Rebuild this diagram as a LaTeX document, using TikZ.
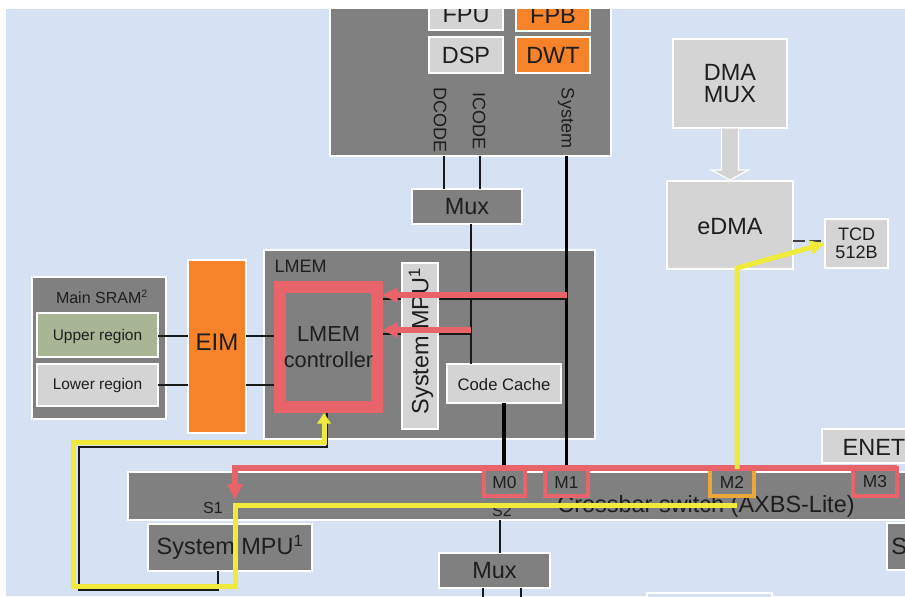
\documentclass[tikz,border=0pt]{standalone}
\usepackage{fontspec}
\setmainfont{Liberation Sans}
\usetikzlibrary{fit,arrows.meta}
\definecolor{bgblue}{HTML}{D6E1F3}
\definecolor{dgray}{HTML}{808080}
\definecolor{lgray}{HTML}{D4D4D4}
\definecolor{orng}{HTML}{F6822A}
\definecolor{rred}{HTML}{E8636A}
\definecolor{yel}{HTML}{F0EA3C}
\definecolor{morange}{HTML}{EDA63A}
\definecolor{grn}{HTML}{A8B696}
\definecolor{txt}{HTML}{1E1E1E}
\begin{document}
\begin{tikzpicture}[x=0.75pt,y=-0.75pt,
  every node/.append style={text=txt},
  blk/.style={rectangle, inner sep=0pt, outer sep=0pt, draw=white, line width=0.9pt},
  dk/.style={blk, fill=dgray},
  lt/.style={blk, fill=lgray},
  og/.style={blk, fill=orng},
  mb/.style={rectangle, inner sep=0pt, outer sep=0pt, draw=rred, line width=2.8pt, fill=dgray},
  fbig/.style={font=\fontsize{17.6}{16}\selectfont},
  fctl/.style={font=\fontsize{16.3}{19.5}\selectfont},
  fmid/.style={font=\fontsize{13.5}{13.5}\selectfont},
  fsm/.style={font=\fontsize{12}{13}\selectfont},
  fm/.style={font=\fontsize{12.5}{13}\selectfont},
  fmb/.style={font=\fontsize{13}{13}\selectfont},
  fxs/.style={font=\fontsize{11.6}{13}\selectfont},
  wthin/.style={draw=black!90, line width=1.1pt},
  wmid/.style={draw=black!90, line width=1.6pt},
  wthick/.style={draw=black, line width=2.8pt},
  rline/.style={draw=rred, line width=4pt},
  rarr/.style={draw=rred, line width=4.5pt, -{Triangle[length=11pt,width=11pt]}},
  yline/.style={draw=yel, line width=3.75pt},
]
\useasboundingbox (0,0) rectangle (905,596);
\fill[white] (0,0) rectangle (905,596);
\fill[bgblue] (6,9) rectangle (905,596);
\clip (6,9) rectangle (905,596);

% ---- core
\node[dk, fit={(330,-5)(611,156)}] (core) {};
\node[lt, fit={(429,-3)(503,30)}] (fpu) {};
\node[fbig] (fput) at (466,15) {FPU};
\node[og, fit={(516,-3)(590,31)}] (fpb) {};
\node[fbig] (fpbt) at (553,15) {FPB};
\node[lt, fit={(429,37)(503,73)}] (dsp) {};
\node[fbig] (dspt) at (dsp.center) {DSP};
\node[og, fit={(516,37)(590,73)}] (dwt) {};
\node[fbig] (dwtt) at (dwt.center) {DWT};
\node[fmid, rotate=-90] (dcode) at (440,120) {DCODE};
\node[fmid, rotate=-90] (icode) at (479,121) {ICODE};
\node[fmid, rotate=-90] (sysbus) at (566,118) {System};

\node[dk, fit={(412,189)(522,224)}] (mux1) {};
\node[fbig] (mux1t) at (mux1.center) {Mux};
\coordinate (dx) at (444,0);
\coordinate (ix) at (480,0);
\draw[wthin] (core.south -| dx) -- (mux1.north -| dx);
\draw[wthin] (core.south -| ix) -- (mux1.north -| ix);

% ---- DMA
\node[lt, fit={(673,39)(787,128)}] (dmamux) {};
\node[fbig, align=center] (dmamuxt) at (dmamux.center) {DMA\\MUX};
\node[lt, fit={(667,181)(793,269)}] (edma) {};
\node[fbig] (edmat) at (730,227) {eDMA};
\node[lt, fit={(825,219)(888,268)}] (tcd) {};
\node[fmid, align=center] (tcdt) at (tcd.center) {TCD\\512B};
\filldraw[fill=lgray, draw=white, line width=0.9pt] (dmamux.south) ++(-8.5,0) -- ++(0,42) -- ++(-10,0) -- ++(18.5,10) -- ++(18.5,-10) -- ++(-10,0) -- ++(0,-42) -- cycle;
\coordinate (dl) at (0,241);
\draw[draw=black!75, line width=1pt, dash pattern=on 9pt off 3pt] (edma.east |- dl) -- (tcd.west |- dl);

% ---- SRAM / EIM
\node[dk, fit={(32,277)(166,419)}] (sram) {};
\node[fsm] (sramlbl) at (102,297) {Main SRAM\textsuperscript{2}};
\node[blk, fill=grn, fit={(37,313)(158,357)}] (upr) {};
\node[fxs] (uprt) at (97.5,336) {Upper region};
\node[lt, fit={(37,364)(158,406)}] (lwr) {};
\node[fxs] (lwrt) at (97.5,385) {Lower region};
\node[og, fit={(188,260)(246,433)}] (eim) {};
\node[font=\fontsize{18}{18}\selectfont] (eimt) at (217,342) {EIM};

% ---- LMEM
\node[dk, fit={(264,250)(595,439)}] (lmem) {};
\node[fmid, anchor=west] (lmemlbl) at (270,266) {LMEM};
\node[lt, fit={(447,364)(561,403)}] (cc) {};
\node[fm] (cct) at (504,385) {Code Cache};
\node[rectangle, fill=dgray, draw=rred, line width=9pt, inner sep=0pt, outer sep=4.5pt,
      minimum width=72.5pt, minimum height=90pt, align=center, fctl] (lctl) at (328.5,347) {LMEM\\controller};

\draw[wmid] (upr.east |- uprt) -- (eim.west |- uprt);
\draw[wmid] (lwr.east |- lwrt) -- (eim.west |- lwrt);
\draw[wmid] (eim.east |- uprt) -- (lctl.west |- uprt);
\draw[wmid] (eim.east |- lwrt) -- (lctl.west |- lwrt);

% ---- crossbar & masters
\node[dk, fit={(128,472)(930,520)}] (xbar) {};
\node[fbig] (xbartxt) at (706,506) {Crossbar switch (AXBS-Lite)};
\node[fsm] (s1) at (213,508) {S1};
\node[fsm] (s2) at (502,511) {S2};
\node[mb, fit={(484,469)(525,496)}] (m0) {};
\node[fmb] (m0t) at (m0.center) {M0};
\node[mb, fit={(545,469)(588,496)}] (m1) {};
\node[fmb] (m1t) at (m1.center) {M1};
\node[mb, draw=morange, fit={(710,469)(754,496)}] (m2) {};
\node[fmb] (m2t) at (m2.center) {M2};
\node[mb, fit={(853,468)(897,496)}] (m3) {};
\node[fmb] (m3t) at (m3.center) {M3};

% bus lines
\coordinate (mx) at (471,0);
\draw[wmid, line width=2.2pt] (mux1.south -| mx) -- (cc.north -| mx);
\draw[wthick] (core.south -| m1.north) -- (m1.north);
\draw[wthick] (cc.south) -- (cc.south |- m0.north);

% black links to controller
\coordinate (k1) at (0,299);
\coordinate (k2) at (0,334);
\draw[wthin] (m1.north |- k1) -- (lctl.east |- k1);
\draw[wthin] (mx |- k2) -- (lctl.east |- k2);

% System MPU (vertical)
\node[lt, fit={(402,263)(438,429)}] (smpuv) {};
\node[fbig, rotate=90] (smpuvtxt) at (421,341) {System MPU\textsuperscript{1}};

% red arrows into controller
\coordinate (r1) at (0,295);
\coordinate (r2) at (0,330);
\draw[rarr] (m1.north |- r1) -- (lctl.east |- r1);
\draw[rarr] (mx |- r2) -- (lctl.east |- r2);

% red line to S1
\coordinate (s1in) at (235,500);
\draw[rline, -{Triangle[length=12pt,width=11pt]}] (m3.north east) -- (m3.north east -| s1in) -- (s1in);

% ---- lower blocks
\node[dk, fit={(148,524)(312,571)}] (smpu) {};
\node[fbig] (smput) at (smpu.center) {System MPU\textsuperscript{1}};
\node[dk, fit={(439,553)(550,588)}] (mux2) {};
\node[fbig] (mux2t) at (mux2.center) {Mux};
\coordinate (s2x) at (500,0);
\coordinate (ma) at (483,0);
\coordinate (mbb) at (521,0);
\draw[wthin] (xbar.south -| s2x) -- (mux2.north -| s2x);
\draw[wmid] (mux2.south -| ma) -- ++(0,20);
\draw[wmid] (mux2.south -| mbb) -- ++(0,20);
\node[lt, fit={(822,429)(926,463)}] (enet) {};
\node[fbig] (enett) at (874,447) {ENET};
\node[dk, fit={(887,523)(940,570)}] (sbox) {};
\node[fbig, anchor=west, inner sep=0pt] (stxt) at (891,546) {S};
\node[blk, fill=bgblue, fit={(647,593)(772,620)}] (botbox) {};

% black link System MPU -> controller
\coordinate (b1) at (218,590);
\coordinate (b2) at (79,590);
\coordinate (b3) at (79,447);
\coordinate (b4) at (327,447);
\draw[wmid] (smpu.south -| b1) -- (b1) -- (b2) -- (b3) -- (b4) -- (lctl.south -| b4);

% ---- yellow paths
\coordinate (ybend) at (737,268);
\draw[yline, -{Triangle[length=11pt,width=10pt]}] (ybend |- m2.north) -- (ybend) -- (tcd.west);
\coordinate (y1) at (737,505);
\coordinate (y2) at (235,505);
\coordinate (y3) at (235,586);
\coordinate (y4) at (73,586);
\coordinate (y5) at (73,442);
\coordinate (y6) at (324,442);
\draw[yline, -{Triangle[length=8pt,width=10pt]}] (y1) -- (y2) -- (y3) -- (y4) -- (y5) -- (y6) -- (lctl.south -| y6);
\end{tikzpicture}
\end{document}
